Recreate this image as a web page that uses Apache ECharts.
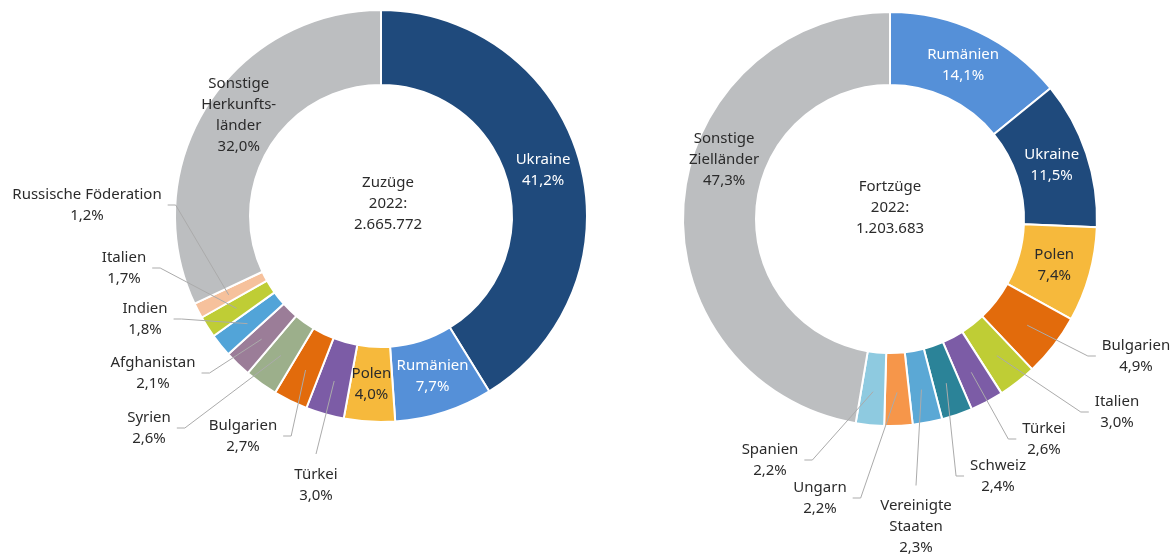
<!DOCTYPE html>
<html>
<head>
<meta charset="utf-8">
<script src="https://cdn.jsdelivr.net/npm/echarts@6/dist/echarts.min.js"></script>
<style>
html,body{margin:0;padding:0;background:#ffffff;}
#chart{width:1176px;height:558px;}
</style>
</head>
<body>
<div id="chart"></div>
<script>
// ---- Data: Zuzüge 2022 (Herkunftsländer) ----
const zuzugLaender = ['Ukraine', 'Rumänien', 'Polen', 'Türkei', 'Bulgarien', 'Syrien', 'Afghanistan', 'Indien', 'Italien', 'Russische Föderation', 'Sonstige\nHerkunfts-\nländer'];
const zuzugAnteile = [41.2, 7.7, 4.0, 3.0, 2.7, 2.6, 2.1, 1.8, 1.7, 1.2, 32.0];
const zuzugTitel = 'Zuzüge\n2022:\n2.665.772';

// ---- Data: Fortzüge 2022 (Zielländer) ----
const fortzugLaender = ['Rumänien', 'Ukraine', 'Polen', 'Bulgarien', 'Italien', 'Türkei', 'Schweiz', 'Vereinigte\nStaaten', 'Ungarn', 'Spanien', 'Sonstige\nZielländer'];
const fortzugAnteile = [14.1, 11.5, 7.4, 4.9, 3.0, 2.6, 2.4, 2.3, 2.2, 2.2, 47.3];
const fortzugTitel = 'Fortzüge\n2022:\n1.203.683';

// ---- Styles ----
const farbe = {
  Ukraine: '#1f4a7c', 'Rumänien': '#5590d8', Polen: '#f6b93c', 'Türkei': '#7c5ca6',
  Bulgarien: '#e26b0c', Syrien: '#9caf8b', Afghanistan: '#9b7d98', Indien: '#52a4d8',
  Italien: '#bfcd35', 'Russische Föderation': '#f6c19c', Schweiz: '#2b8398',
  'Vereinigte\nStaaten': '#5ba8d5', Ungarn: '#f6964a', Spanien: '#8ecae0',
  sonst: '#bcbec0'
};
const FONT = '"Noto Sans", "Open Sans", sans-serif';
const TEXT = '#2b2b2b';
const LINE = '#ababab';

// Layout per chart: inside labels (with optional nudge), outside label spots relative to centre
const layoutLinks = {
  center: [381, 216], r0: 131, r: 206, titlePos: [388, 204],
  inside: {0: {color: '#ffffff'}, 1: {color: '#ffffff'}, 2: {color: TEXT}, 10: {color: TEXT, nudge: [0, -10]}},
  spots: {9: [-294, -11, 'r'], 8: [-257, 52, 'r'], 7: [-236, 103, 'r'], 6: [-228, 157, 'r'],
          5: [-232, 212, 'r'], 4: [-138, 220, 'r'], 3: [-65, 269, 't']}
};
const layoutRechts = {
  center: [890, 219], r0: 134, r: 207, titlePos: [890, 208],
  inside: {0: {color: '#ffffff'}, 1: {color: '#ffffff'}, 2: {color: TEXT}, 10: {color: TEXT, nudge: [4, -45]}},
  spots: {3: [246, 137, 'l'], 4: [227, 193, 'l'], 5: [154, 220, 'l'], 6: [108, 257, 'l'],
          7: [26, 308, 't'], 8: [-70, 279, 'r'], 9: [-120, 241, 'r']}
};

function fmt(v) { return v.toFixed(1).replace('.', ',') + '%'; }

function midAngles(values) {
  const total = values.reduce((a, b) => a + b, 0);
  let acc = 0;
  return values.map(v => { const a = (acc + v / 2) / total * Math.PI * 2; acc += v; return a; });
}

// Ring of coloured slices (no labels)
function ringSeries(names, values, L) {
  return {
    type: 'pie', z: 2,
    center: L.center, radius: [L.r0, L.r], startAngle: 90, clockwise: true,
    animation: false, silent: true,
    itemStyle: {borderColor: '#ffffff', borderWidth: 2},
    label: {show: false}, labelLine: {show: false},
    data: names.map((n, i) => ({name: n, value: values[i], itemStyle: {color: farbe[n] || farbe.sonst}}))
  };
}

// Same slices, transparent, drawn on top: carries the labels and leader lines
function labelSeries(names, values, L) {
  const mids = midAngles(values);
  const cx = L.center[0], cy = L.center[1];
  const data = names.map((n, i) => {
    const ins = L.inside[i];
    return {
      name: n, value: values[i],
      label: ins ? {position: 'inside', color: ins.color} : {position: 'outside', color: TEXT},
      labelLine: {show: !ins}
    };
  });
  return {
    type: 'pie', z: 5,
    center: L.center, radius: [L.r0, L.r], startAngle: 90, clockwise: true,
    avoidLabelOverlap: false, animation: false, silent: true,
    itemStyle: {color: 'rgba(0,0,0,0)', borderWidth: 0},
    label: {
      show: true, fontFamily: FONT, fontSize: 15, lineHeight: 21, color: TEXT,
      align: 'center',
      formatter: p => p.name + '\n' + fmt(p.value)
    },
    labelLine: {show: true, length: 10, length2: 10, lineStyle: {color: LINE, width: 1}},
    labelLayout: function (p) {
      const i = p.dataIndex;
      const a = mids[i];
      const ins = L.inside[i];
      if (ins) {
        const rm = (L.r0 + L.r) / 2;
        const nd = ins.nudge || [0, 0];
        return {x: cx + rm * Math.sin(a) + nd[0], y: cy - rm * Math.cos(a) + nd[1], align: 'center', verticalAlign: 'middle'};
      }
      const s = L.spots[i];
      if (!s) return {};
      const x = cx + s[0], y = cy + s[1];
      const w = p.labelRect.width, h = p.labelRect.height;
      const rs = (L.r0 + L.r) / 2 + 3;
      const start = [cx + rs * Math.sin(a), cy - rs * Math.cos(a)];
      let end, elbow;
      if (s[2] === 'r') { end = [x + w / 2 + 6, y]; elbow = [end[0] + 8, y]; }
      else if (s[2] === 'l') { end = [x - w / 2 - 6, y]; elbow = [end[0] - 8, y]; }
      else { end = [x, y - h / 2 - 10]; elbow = [x, y - h / 2 - 10]; }
      return {x: x, y: y, align: 'center', verticalAlign: 'middle', labelLinePoints: [start, elbow, end]};
    },
    data: data
  };
}

function centreText(txt, L) {
  return {
    type: 'text', x: L.titlePos[0], y: L.titlePos[1], silent: true,
    style: {text: txt, align: 'center', verticalAlign: 'middle', fill: TEXT,
            font: '15px ' + FONT, lineHeight: 21}
  };
}

const chart = echarts.init(document.getElementById('chart'), null, {renderer: 'canvas'});
chart.setOption({
  backgroundColor: '#ffffff',
  animation: false,
  graphic: [centreText(zuzugTitel, layoutLinks), centreText(fortzugTitel, layoutRechts)],
  series: [
    ringSeries(zuzugLaender, zuzugAnteile, layoutLinks),
    ringSeries(fortzugLaender, fortzugAnteile, layoutRechts),
    labelSeries(zuzugLaender, zuzugAnteile, layoutLinks),
    labelSeries(fortzugLaender, fortzugAnteile, layoutRechts)
  ]
});
</script>
</body>
</html>
